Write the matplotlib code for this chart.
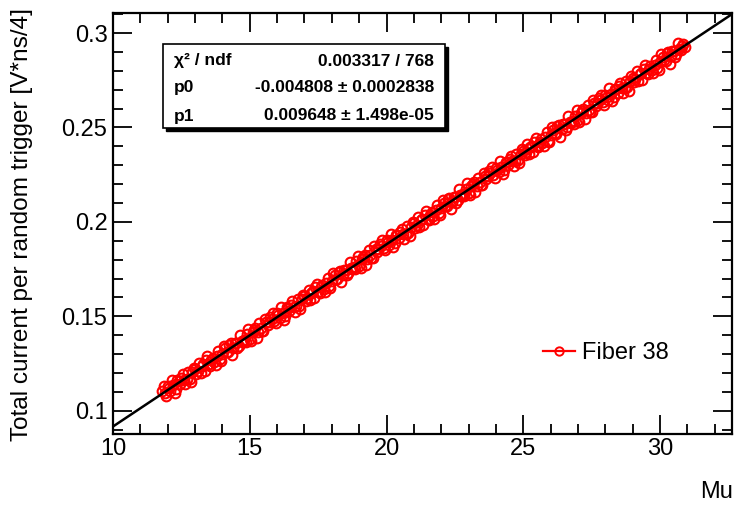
import matplotlib
matplotlib.use("Agg")
import matplotlib.pyplot as plt
from matplotlib.patches import Rectangle
from matplotlib.lines import Line2D
import numpy as np

plt.rcParams['font.family'] = ['Liberation Sans', 'DejaVu Sans']

# ---- data ----
mu_a = [round(11.8 + 0.1 * k, 2) for k in range(192)]
current_a = [
    0.11024, 0.10920, 0.11297, 0.11043, 0.11340, 0.11166, 0.11573, 0.11739, 0.11636, 0.11662,
    0.11689, 0.12035, 0.12202, 0.12128, 0.12005, 0.12461, 0.12668, 0.12454, 0.12671, 0.12597,
    0.12894, 0.12730, 0.13007, 0.13303, 0.13100, 0.13566, 0.13343, 0.13609, 0.13446, 0.13712,
    0.13748, 0.14044, 0.13801, 0.14167, 0.14394, 0.14180, 0.14367, 0.14243, 0.14700, 0.14706,
    0.14883, 0.14779, 0.15156, 0.14902, 0.15199, 0.15025, 0.15432, 0.15598, 0.15495, 0.15521,
    0.15548, 0.15894, 0.16061, 0.15987, 0.15864, 0.16320, 0.16527, 0.16313, 0.16530, 0.16456,
    0.16753, 0.16589, 0.16866, 0.17162, 0.16959, 0.17425, 0.17202, 0.17468, 0.17305, 0.17571,
    0.17608, 0.17904, 0.17661, 0.18027, 0.18254, 0.18040, 0.18227, 0.18103, 0.18560, 0.18566,
    0.18742, 0.18638, 0.19015, 0.18761, 0.19058, 0.18884, 0.19291, 0.19457, 0.19354, 0.19380,
    0.19407, 0.19753, 0.19920, 0.19846, 0.19723, 0.20179, 0.20386, 0.20172, 0.20389, 0.20315,
    0.20612, 0.20448, 0.20725, 0.21021, 0.20818, 0.21284, 0.21061, 0.21327, 0.21164, 0.21430,
    0.21467, 0.21763, 0.21520, 0.21886, 0.22113, 0.21899, 0.22086, 0.21962, 0.22419, 0.22425,
    0.22602, 0.22498, 0.22875, 0.22621, 0.22918, 0.22744, 0.23151, 0.23317, 0.23214, 0.23240,
    0.23266, 0.23612, 0.23779, 0.23705, 0.23582, 0.24038, 0.24245, 0.24031, 0.24248, 0.24174,
    0.24471, 0.24307, 0.24584, 0.24880, 0.24677, 0.25143, 0.24920, 0.25186, 0.25023, 0.25289,
    0.25326, 0.25622, 0.25379, 0.25745, 0.25972, 0.25758, 0.25945, 0.25821, 0.26278, 0.26284,
    0.26461, 0.26357, 0.26734, 0.26480, 0.26777, 0.26603, 0.27010, 0.27176, 0.27073, 0.27099,
    0.27126, 0.27472, 0.27639, 0.27565, 0.27442, 0.27898, 0.28105, 0.27891, 0.28108, 0.28034,
    0.28330, 0.28166, 0.28443, 0.28739, 0.28536, 0.29002, 0.28779, 0.29045, 0.28882, 0.29148,
    0.29315, 0.29272,
]
mu_b = [round(11.85 + 0.1 * k, 2) for k in range(191)]
current_b = [
    0.11302, 0.10768, 0.11195, 0.11641, 0.10958, 0.11614, 0.11411, 0.11927, 0.11394, 0.12040,
    0.11517, 0.12263, 0.11960, 0.12536, 0.12383, 0.12099, 0.12876, 0.12392, 0.12809, 0.12425,
    0.13162, 0.12628, 0.13455, 0.13111, 0.13508, 0.12944, 0.13611, 0.13307, 0.14014, 0.13650,
    0.13626, 0.14342, 0.13719, 0.14275, 0.13852, 0.14628, 0.14245, 0.14881, 0.14538, 0.14974,
    0.15161, 0.14627, 0.15054, 0.15500, 0.14817, 0.15473, 0.15270, 0.15786, 0.15253, 0.15899,
    0.15376, 0.16122, 0.15819, 0.16395, 0.16242, 0.15958, 0.16735, 0.16251, 0.16668, 0.16284,
    0.17021, 0.16487, 0.17314, 0.16970, 0.17367, 0.16803, 0.17470, 0.17166, 0.17873, 0.17509,
    0.17486, 0.18202, 0.17579, 0.18135, 0.17712, 0.18488, 0.18105, 0.18741, 0.18398, 0.18834,
    0.19020, 0.18486, 0.18913, 0.19359, 0.18676, 0.19332, 0.19129, 0.19645, 0.19112, 0.19758,
    0.19235, 0.19981, 0.19678, 0.20254, 0.20101, 0.19817, 0.20594, 0.20110, 0.20527, 0.20143,
    0.20880, 0.20346, 0.21173, 0.20829, 0.21226, 0.20662, 0.21329, 0.21025, 0.21732, 0.21368,
    0.21345, 0.22061, 0.21438, 0.21994, 0.21571, 0.22347, 0.21964, 0.22600, 0.22257, 0.22693,
    0.22880, 0.22346, 0.22773, 0.23219, 0.22536, 0.23192, 0.22989, 0.23505, 0.22972, 0.23618,
    0.23094, 0.23840, 0.23537, 0.24113, 0.23960, 0.23676, 0.24453, 0.23969, 0.24386, 0.24002,
    0.24739, 0.24205, 0.25032, 0.24688, 0.25085, 0.24521, 0.25188, 0.24884, 0.25591, 0.25227,
    0.25204, 0.25920, 0.25297, 0.25853, 0.25430, 0.26206, 0.25823, 0.26459, 0.26116, 0.26552,
    0.26739, 0.26205, 0.26632, 0.27078, 0.26395, 0.27051, 0.26848, 0.27364, 0.26831, 0.27477,
    0.26954, 0.27700, 0.27397, 0.27973, 0.27820, 0.27536, 0.28313, 0.27829, 0.28246, 0.27862,
    0.28598, 0.28064, 0.28891, 0.28547, 0.28944, 0.28380, 0.29051, 0.28747, 0.29454, 0.29090,
    0.29433,
]

# fit parameters shown in the stats box
p0 = -0.004808
p1 = 0.009648
fit_x = [10.0, 32.63]

stats_labels = ["\u03c7\u00b2 / ndf", "p0", "p1"]
stats_values = ["0.003317 / 768",
                "-0.004808 \u00b1 0.0002838",
                "0.009648 \u00b1 1.498e-05"]

legend_label = "Fiber 38"
x_label = "Mu"
y_label = "Total current per random trigger [V*ns/4]"
x_ticks = [10, 15, 20, 25, 30]
y_ticks = [0.1, 0.15, 0.2, 0.25, 0.3]
y_tick_labels = ["0.1", "0.15", "0.2", "0.25", "0.3"]

W, H = 735, 505
fig = plt.figure(figsize=(W / 100, H / 100), dpi=100)
ax = fig.add_axes([113 / W, 1 - 434 / H, 619 / W, 421 / H])

mk = dict(linestyle='none', marker='o', mfc='none', mec='#ff0000', ms=7, mew=1.5, zorder=2)
ax.plot(mu_a, current_a, **mk)
ax.plot(mu_b, current_b, **mk)
fx = np.array(fit_x)
ax.plot(fx, p0 + p1 * fx, color='black', lw=1.8, zorder=3)

ax.set_xlim(10, 32.63)
ax.set_ylim(0.0877, 0.3106)
ax.set_xticks(x_ticks)
ax.set_xticklabels([str(t) for t in x_ticks])
ax.set_yticks(y_ticks)
ax.set_yticklabels(y_tick_labels)
ax.set_xticks(np.arange(11, 33, 1), minor=True)
ax.set_yticks(np.arange(0.09, 0.311, 0.01), minor=True)

ax.tick_params(which='both', direction='in', top=True, right=True,
               width=1.3, color='black')
ax.tick_params(which='major', length=13.5)
ax.tick_params(which='minor', length=7.5)
ax.tick_params(axis='x', which='major', labelsize=17, pad=3)
ax.tick_params(axis='y', which='major', labelsize=17, pad=4)
for s in ax.spines.values():
    s.set_linewidth(1.6)

fig.text(22 / W, 1 - 8 / H, y_label, rotation=90, ha='center', va='top',
         fontsize=17.6)
fig.text(733 / W, 1 - 492 / H, x_label, ha='right', va='center', fontsize=17)

# stats box
bx0, by0, bx1, by1 = 163, 44, 445, 128
shadow = Rectangle(((bx0 + 3) / W, 1 - (by1 + 3) / H), (bx1 - bx0) / W,
                   (by1 - by0) / H, transform=fig.transFigure,
                   facecolor='black', edgecolor='black', zorder=5)
box = Rectangle((bx0 / W, 1 - by1 / H), (bx1 - bx0) / W, (by1 - by0) / H,
                transform=fig.transFigure, facecolor='white',
                edgecolor='black', lw=1.2, zorder=6)
fig.patches.extend([shadow, box])
row_y = [61, 88, 116]
for lab, val, yy in zip(stats_labels, stats_values, row_y):
    fig.text(174 / W, 1 - yy / H, lab, ha='left', va='center', fontsize=12.5,
             fontweight='bold', zorder=7)
    fig.text(434 / W, 1 - yy / H, val, ha='right', va='center', fontsize=12.5,
             fontweight='bold', zorder=7)

# legend
handle = Line2D([], [], color='#ff0000', lw=1.6, marker='o', mfc='none',
                mec='#ff0000', ms=6, mew=1.4)
ax.legend([handle], [legend_label], loc='center left',
          bbox_to_anchor=(543 / W, 1 - 353 / H), bbox_transform=fig.transFigure,
          frameon=False, fontsize=17, handlelength=1.35, handletextpad=0.3,
          borderpad=0, borderaxespad=0)

fig.savefig('out.png', dpi=100)
